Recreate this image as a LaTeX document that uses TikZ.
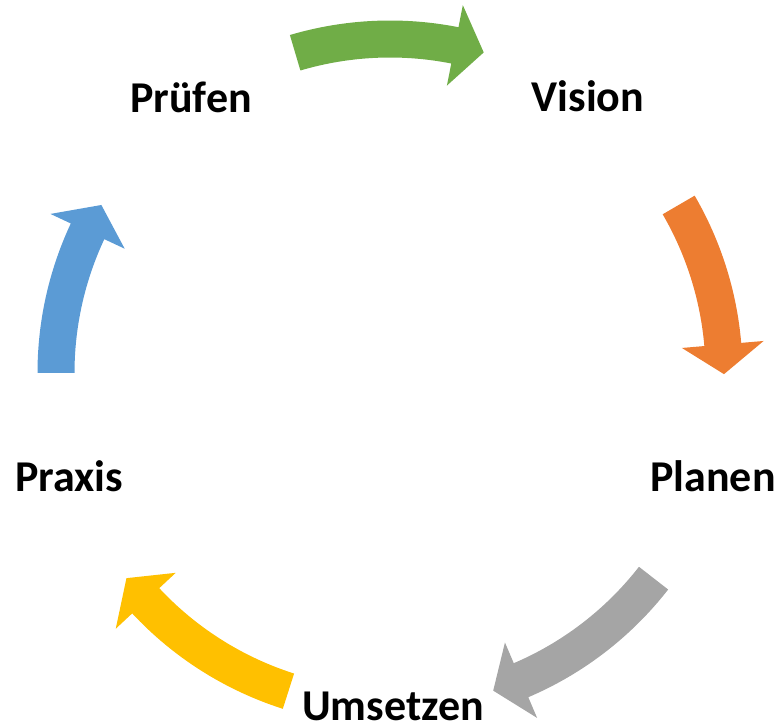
\documentclass[tikz,border=0pt]{standalone}
\usepackage{fontspec}
\setmainfont{Carlito}
\usetikzlibrary{calc}
\definecolor{cgreen}{HTML}{70AD47}
\definecolor{corange}{HTML}{ED7D31}
\definecolor{cgray}{HTML}{A5A5A5}
\definecolor{cyellow}{HTML}{FFC000}
\definecolor{cblue}{HTML}{5B9BD5}
\newcommand\cyclearrow[3]{%
  \fill[#1] ($(C)+(#2:352.5)$) arc[start angle=#2, end angle=#3+5.1, radius=352.5]
    -- ($(C)+(#3+5.1:375)$) -- ($(C)+(#3:334)$) -- ($(C)+(#3+5.1:293)$)
    -- ($(C)+(#3+5.1:315.5)$) arc[start angle=#3+5.1, end angle=#2, radius=315.5] -- cycle;}
\begin{document}
\begin{tikzpicture}[x=1pt,y=1pt,
  lbl/.style={inner sep=0pt, anchor=base, font=\fontsize{44}{50}\selectfont\bfseries}]
\useasboundingbox (0,0) rectangle (780,725);
\coordinate (C) at (390,352);
\cyclearrow{cblue}{180}{149.8}
\cyclearrow{cgreen}{106.5}{73.7}
\cyclearrow{corange}{30.2}{-0.2}
\cyclearrow{cgray}{-37.9}{-72}
\cyclearrow{cyellow}{-107.7}{-142.1}
\node[lbl] (pruefen) at (191,612) {Prüfen};
\node[lbl] (vision) at (588,613) {Vision};
\node[lbl] (planen) at (713,233) {Planen};
\node[lbl] (praxis) at (69,233) {Praxis};
\node[lbl] (umsetzen) at (393,4) {Umsetzen};
\end{tikzpicture}
\end{document}
